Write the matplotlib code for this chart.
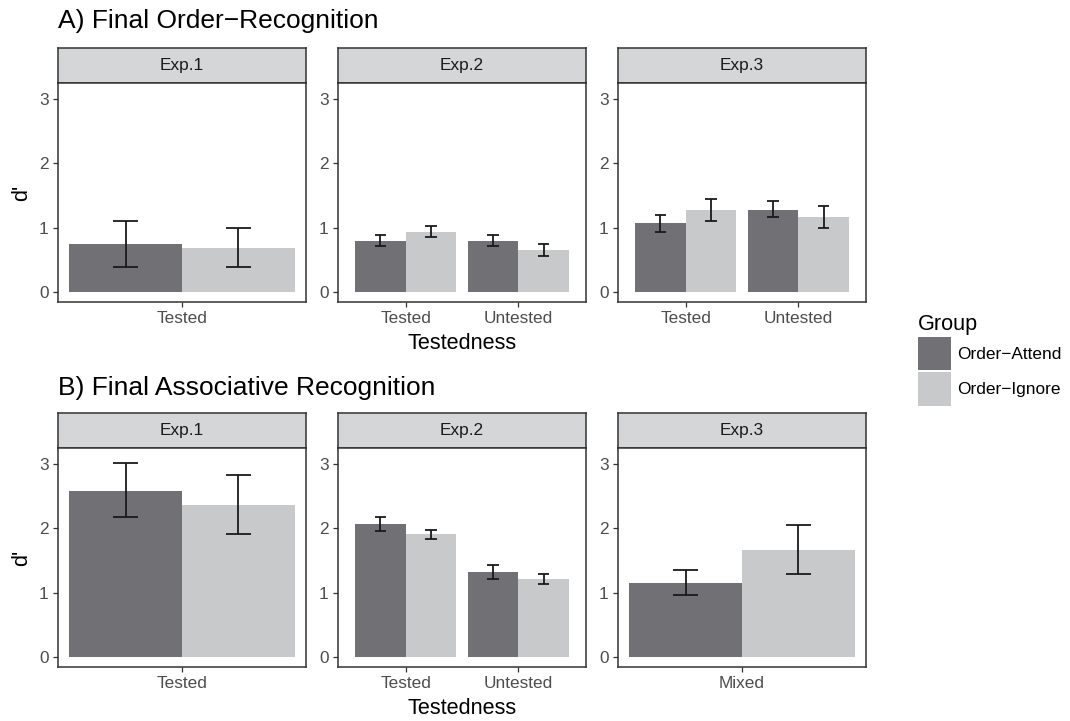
import matplotlib
matplotlib.use("Agg")
import matplotlib.pyplot as plt
import numpy as np
from matplotlib.patches import Patch

plt.rcParams["font.family"] = ["Liberation Sans", "DejaVu Sans"]

# ---- data -------------------------------------------------------------
experiments = ["Exp.1", "Exp.2", "Exp.3"]
groups = ["Order\u2212Attend", "Order\u2212Ignore"]

# A) Final order-recognition
order_cats = [["Tested"], ["Tested", "Untested"], ["Tested", "Untested"]]
order_attend = [[0.75], [0.80, 0.80], [1.07, 1.28]]
order_attend_lo = [[0.39], [0.71, 0.71], [0.93, 1.16]]
order_attend_hi = [[1.10], [0.88, 0.88], [1.20, 1.42]]
order_ignore = [[0.69], [0.94, 0.66], [1.28, 1.17]]
order_ignore_lo = [[0.39], [0.85, 0.56], [1.10, 0.99]]
order_ignore_hi = [[1.00], [1.03, 0.75], [1.45, 1.34]]

# B) Final associative recognition
assoc_cats = [["Tested"], ["Tested", "Untested"], ["Mixed"]]
assoc_attend = [[2.58], [2.07, 1.32], [1.15]]
assoc_attend_lo = [[2.17], [1.96, 1.21], [0.97]]
assoc_attend_hi = [[3.01], [2.18, 1.43], [1.35]]
assoc_ignore = [[2.36], [1.91, 1.21], [1.66]]
assoc_ignore_lo = [[1.91], [1.83, 1.13], [1.29]]
assoc_ignore_hi = [[2.83], [1.98, 1.29], [2.05]]

yticks = [0, 1, 2, 3]

# ---- style ------------------------------------------------------------
DARK = "#717175"
LIGHT = "#c8c9cb"
STRIP = "#d5d6d8"
LINE = "#333333"
TICK_TXT = "#4d4d4d"

W, H = 1070, 721
BAR_W = 0.45
CAP = 0.05


def fx(px):
    return px / W


def fy(px):
    return 1 - px / H


def draw_errors(ax, x, lo, hi):
    ax.vlines(x, lo, hi, color="#1a1a1a", lw=1.3, zorder=3)
    ax.hlines(lo, x - CAP, x + CAP, color="#1a1a1a", lw=1.3, zorder=3)
    ax.hlines(hi, x - CAP, x + CAP, color="#1a1a1a", lw=1.3, zorder=3)


def draw_row(fig, top_px, cats, att, att_lo, att_hi, ign, ign_lo, ign_hi):
    axes = []
    for i, left in enumerate([58, 338, 618]):
        strip = fig.add_axes([fx(left), fy(top_px + 35), fx(248), 35 / H])
        strip.set_facecolor(STRIP)
        strip.set_xticks([])
        strip.set_yticks([])
        for s in strip.spines.values():
            s.set_color(LINE)
            s.set_linewidth(1.1)
        strip.text(0.5, 0.5, experiments[i], ha="center", va="center",
                   fontsize=12.4, color="#1a1a1a", transform=strip.transAxes)

        ax = fig.add_axes([fx(left), fy(top_px + 35 + 219), fx(248), 219 / H])
        n = len(cats[i])
        x = np.arange(1, n + 1)
        ax.bar(x - BAR_W / 2, att[i], width=BAR_W, color=DARK, zorder=2)
        ax.bar(x + BAR_W / 2, ign[i], width=BAR_W, color=LIGHT, zorder=2)
        draw_errors(ax, x - BAR_W / 2, att_lo[i], att_hi[i])
        draw_errors(ax, x + BAR_W / 2, ign_lo[i], ign_hi[i])

        pad = 0.045 if n == 1 else 0.15
        ax.set_xlim(0.55 - pad, n + 0.45 + pad)
        ax.set_ylim(-0.155, 3.25)
        ax.set_xticks(x)
        ax.set_xticklabels(cats[i])
        ax.set_yticks(yticks)
        ax.tick_params(axis="both", length=3.6, width=0.9, color=LINE,
                       labelsize=12.4, labelcolor=TICK_TXT, pad=3)
        for s in ax.spines.values():
            s.set_color(LINE)
            s.set_linewidth(1.1)
        axes.append(ax)

    axes[0].set_ylabel("d'", fontsize=15.6, labelpad=5)
    axes[1].set_xlabel("Testedness", fontsize=15.6, labelpad=5)
    return axes


fig = plt.figure(figsize=(W / 100, H / 100), dpi=100)

fig.text(fx(58), fy(28), "A) Final Order\u2212Recognition", fontsize=19,
         ha="left", va="baseline")
draw_row(fig, 48, order_cats, order_attend, order_attend_lo, order_attend_hi,
         order_ignore, order_ignore_lo, order_ignore_hi)

fig.text(fx(58), fy(395), "B) Final Associative Recognition", fontsize=19,
         ha="left", va="baseline")
draw_row(fig, 413, assoc_cats, assoc_attend, assoc_attend_lo, assoc_attend_hi,
         assoc_ignore, assoc_ignore_lo, assoc_ignore_hi)

handles = [Patch(facecolor=DARK, edgecolor="none"),
           Patch(facecolor=LIGHT, edgecolor="none")]
fig.legend(handles, groups, title="Group", loc="upper left",
           bbox_to_anchor=(fx(918), fy(314)), frameon=False,
           fontsize=12.4, title_fontsize=15.6, handlelength=1.92,
           handleheight=2.6, handletextpad=0.35, labelspacing=0.12,
           borderpad=0, borderaxespad=0, alignment="left")

fig.savefig("out.png", dpi=100)
